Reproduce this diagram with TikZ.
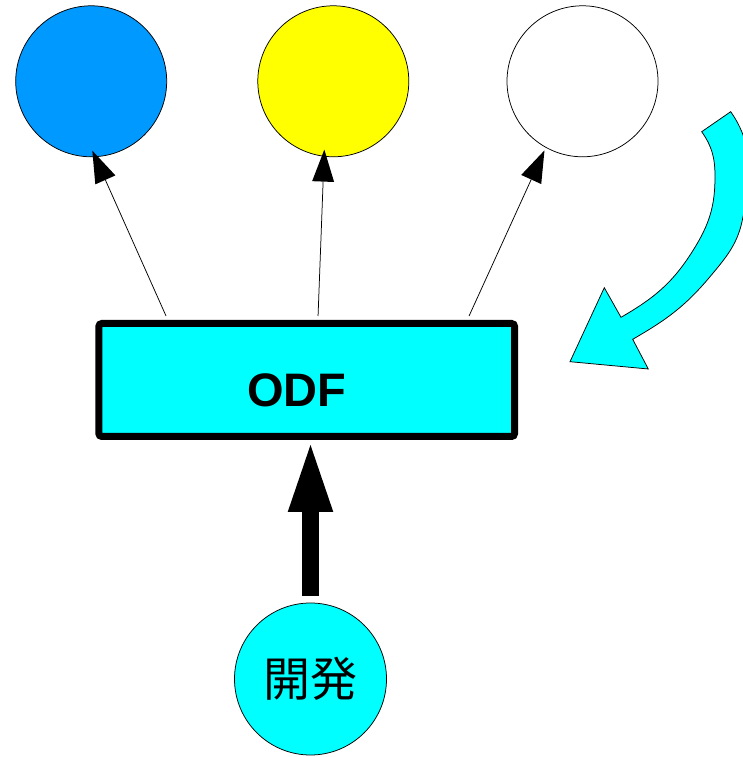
\documentclass[tikz,border=0pt]{standalone}
\usepackage{fontspec}
\setmainfont{Liberation Sans}
\newfontfamily\jpfont{Noto Sans CJK JP}
\usetikzlibrary{arrows.meta}
\definecolor{odfblue}{HTML}{0099FF}
\definecolor{odfyellow}{HTML}{FFFF00}
\definecolor{odfcyan}{HTML}{00FFFF}

\begin{document}
\begin{tikzpicture}[x=1pt,y=1pt,
    ball/.style={circle,draw=black,line width=0.75pt,minimum size=151pt,inner sep=0pt},
    thinarrow/.style={line width=0.75pt,-{Triangle[length=32pt,width=22pt,line width=0pt]}},
    bigarrow/.style={line width=16.6pt,-{Triangle[length=67pt,width=45.6pt,line width=0pt]}}]
            \useasboundingbox (0,0) rectangle (743,757);
            % circles on top
            \node[ball,fill=odfblue] (blue) at (91.2,675.7) {};
            \node[ball,fill=odfyellow] (yellow) at (333.3,675.7) {};
            \node[ball,fill=white] (white) at (582.5,675.7) {};
            % the box
            \node[draw=black,fill=odfcyan,line width=7pt,rounded corners=3pt,inner sep=0pt,
                minimum width=415.7pt,minimum height=113pt] (odf) at (306.7,377) {};
            \node[font=\bfseries\fontsize{47}{47}\selectfont] (odftext)
                at ([xshift=-10pt,yshift=-10.5pt]odf.center) {ODF};
            \foreach \dx/\tgt/\ang/\sh in {70.7/blue/-87/-7,222.7/yellow/-97/-7,373.7/white/-119/3}
            \draw[thinarrow,shorten >=\sh pt] ([shift={(\dx,4)}]odf.north west) -- (\tgt.\ang);
            % bottom
            \node[ball,fill=odfcyan,minimum size=152pt,font=\jpfont\fontsize{47}{47}\selectfont] (dev) at (310.5,78) {開発};
            \draw[bigarrow,shorten <=6.6pt,shorten >=5pt] (dev.north) -- (dev.north |- odf.south);
            % curved arrow
            \draw[fill=odfcyan,line width=0.75pt] (701.7,625.3) -- (730.7,645.3)
                to[out=-55,in=80] (743,540.3) to[out=-100,in=50] (710,480.3)
                to[out=-130,in=30] (632.7,417.7)
                -- (648.3,388) -- (570,395.3) -- (604.3,469.3) -- (621,439.7)
                to[out=30,in=-122] (693.3,507) to[out=58,in=-90] (715,580.3)
                to[out=90,in=-55] (701.7,625.3) -- cycle;
        \end{tikzpicture}
\end{document}
